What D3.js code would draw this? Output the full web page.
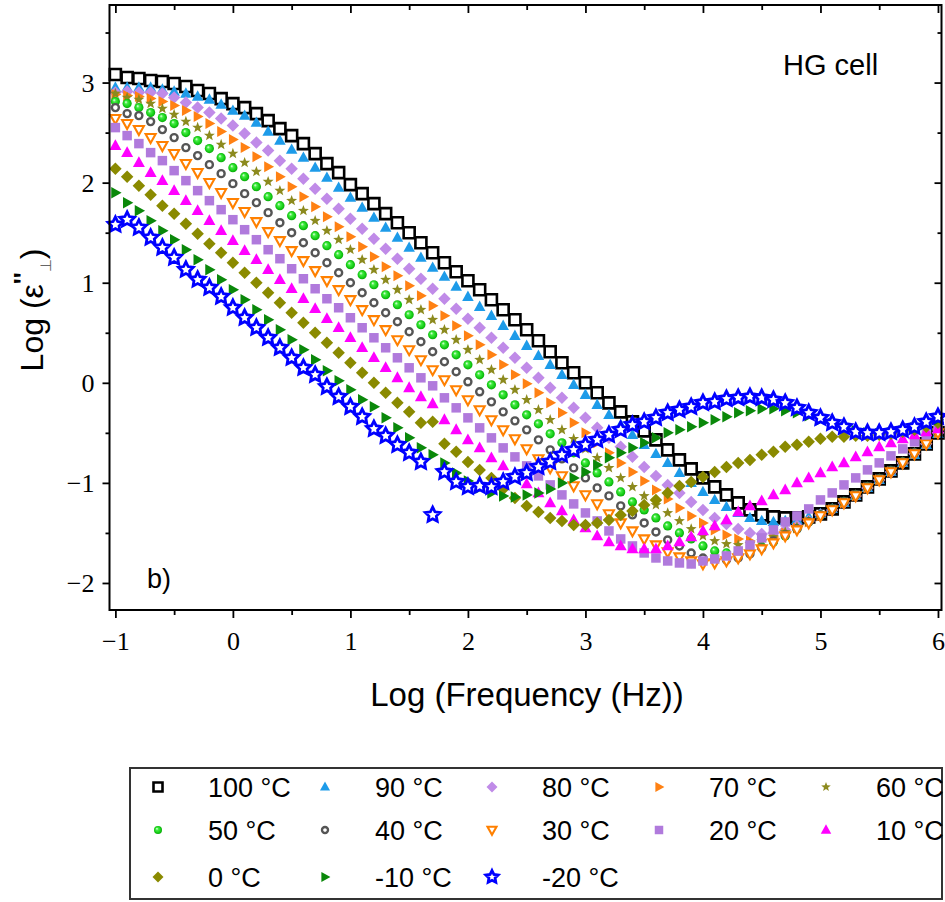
<!DOCTYPE html>
<html><head><meta charset="utf-8">
<script src="https://cdn.jsdelivr.net/npm/d3@7"></script>
<style>body{margin:0;background:#fff}</style>
</head><body><svg id="c" width="945" height="902"></svg>
<script>
// ---------- DATA ----------
const logF = [-1.0,-0.9,-0.8,-0.7,-0.6,-0.5,-0.4,-0.3,-0.2,-0.1,
 0.0,0.1,0.2,0.3,0.4,0.5,0.6,0.7,0.8,0.9,
 1.0,1.1,1.2,1.3,1.4,1.5,1.6,1.7,1.8,1.9,
 2.0,2.1,2.2,2.3,2.4,2.5,2.6,2.7,2.8,2.9,
 3.0,3.1,3.2,3.3,3.4,3.5,3.6,3.7,3.8,3.9,
 4.0,4.1,4.2,4.3,4.4,4.5,4.6,4.7,4.8,4.9,
 5.0,5.1,5.2,5.3,5.4,5.5,5.6,5.7,5.8,5.9,
 6.0];

const eps100 = [3.08,3.05,3.04,3.02,3.01,2.99,2.96,2.92,2.89,2.84,
 2.79,2.75,2.69,2.62,2.54,2.47,2.39,2.29,2.19,2.10,
 1.98,1.89,1.79,1.69,1.60,1.50,1.40,1.30,1.20,1.11,
 1.02,0.93,0.83,0.73,0.63,0.53,0.42,0.31,0.20,0.10,
 0.00,-0.10,-0.20,-0.29,-0.39,-0.48,-0.57,-0.67,-0.77,-0.86,
 -0.95,-1.04,-1.12,-1.20,-1.27,-1.32,-1.34,-1.35,-1.35,-1.34,
 -1.31,-1.26,-1.19,-1.12,-1.04,-0.96,-0.88,-0.80,-0.71,-0.61,
 -0.50];
const eps90 = [2.95,2.95,2.95,2.95,2.93,2.91,2.89,2.86,2.83,2.78,
 2.72,2.67,2.60,2.51,2.42,2.33,2.25,2.15,2.05,1.95,
 1.85,1.75,1.65,1.55,1.45,1.35,1.25,1.15,1.06,0.96,
 0.86,0.76,0.67,0.57,0.47,0.37,0.27,0.18,0.08,-0.02,
 -0.12,-0.22,-0.32,-0.42,-0.52,-0.62,-0.71,-0.80,-0.90,-1.00,
 -1.09,-1.17,-1.24,-1.30,-1.35,-1.38,-1.39,-1.38,-1.37,-1.34,
 -1.31,-1.26,-1.20,-1.13,-1.05,-0.97,-0.89,-0.80,-0.72,-0.62,
 -0.51];
const eps80 = [2.90,2.91,2.90,2.90,2.89,2.85,2.80,2.75,2.70,2.64,
 2.57,2.49,2.40,2.32,2.22,2.14,2.04,1.94,1.84,1.74,
 1.64,1.54,1.44,1.34,1.24,1.14,1.04,0.94,0.84,0.74,
 0.64,0.55,0.45,0.35,0.25,0.15,0.05,-0.05,-0.15,-0.25,
 -0.35,-0.45,-0.55,-0.64,-0.74,-0.84,-0.93,-1.02,-1.10,-1.19,
 -1.27,-1.35,-1.41,-1.46,-1.50,-1.51,-1.50,-1.47,-1.43,-1.38,
 -1.32,-1.27,-1.20,-1.13,-1.05,-0.97,-0.89,-0.80,-0.71,-0.61,
 -0.50];
const eps70 = [2.88,2.87,2.86,2.84,2.81,2.77,2.72,2.66,2.59,2.51,
 2.43,2.35,2.26,2.16,2.06,1.96,1.86,1.76,1.66,1.56,
 1.46,1.36,1.26,1.16,1.07,0.97,0.87,0.77,0.67,0.57,
 0.47,0.38,0.28,0.18,0.08,-0.01,-0.10,-0.20,-0.30,-0.40,
 -0.50,-0.60,-0.70,-0.80,-0.89,-0.98,-1.07,-1.16,-1.25,-1.33,
 -1.40,-1.47,-1.52,-1.56,-1.58,-1.57,-1.54,-1.50,-1.45,-1.39,
 -1.33,-1.27,-1.20,-1.13,-1.05,-0.97,-0.89,-0.80,-0.71,-0.61,
 -0.50];
const eps60 = [2.89,2.85,2.83,2.79,2.74,2.68,2.61,2.55,2.47,2.38,
 2.29,2.20,2.11,2.01,1.92,1.82,1.72,1.62,1.52,1.43,
 1.33,1.23,1.13,1.03,0.93,0.83,0.73,0.63,0.53,0.43,
 0.33,0.23,0.13,0.03,-0.07,-0.17,-0.27,-0.37,-0.47,-0.56,
 -0.66,-0.75,-0.85,-0.95,-1.04,-1.13,-1.22,-1.30,-1.38,-1.46,
 -1.53,-1.58,-1.61,-1.62,-1.61,-1.58,-1.54,-1.49,-1.44,-1.38,
 -1.32,-1.26,-1.19,-1.12,-1.04,-0.96,-0.88,-0.79,-0.70,-0.60,
 -0.49];
const eps50 = [2.81,2.79,2.75,2.70,2.65,2.59,2.50,2.42,2.34,2.25,
 2.15,2.06,1.96,1.86,1.77,1.67,1.57,1.47,1.37,1.28,
 1.18,1.08,0.98,0.88,0.78,0.68,0.58,0.48,0.38,0.28,
 0.18,0.08,-0.02,-0.12,-0.22,-0.32,-0.41,-0.51,-0.60,-0.70,
 -0.80,-0.90,-0.99,-1.09,-1.19,-1.27,-1.35,-1.43,-1.50,-1.56,
 -1.63,-1.68,-1.70,-1.70,-1.68,-1.64,-1.59,-1.53,-1.46,-1.39,
 -1.32,-1.26,-1.19,-1.12,-1.04,-0.96,-0.88,-0.79,-0.70,-0.60,
 -0.49];
const eps40 = [2.75,2.69,2.67,2.61,2.53,2.45,2.35,2.27,2.18,2.09,
 1.99,1.89,1.80,1.70,1.60,1.50,1.40,1.30,1.20,1.10,
 1.00,0.90,0.80,0.70,0.61,0.51,0.41,0.31,0.21,0.11,
 0.01,-0.09,-0.19,-0.29,-0.38,-0.47,-0.57,-0.67,-0.76,-0.85,
 -0.95,-1.05,-1.13,-1.23,-1.32,-1.40,-1.49,-1.57,-1.63,-1.70,
 -1.75,-1.77,-1.77,-1.75,-1.71,-1.65,-1.58,-1.52,-1.46,-1.39,
 -1.32,-1.26,-1.19,-1.12,-1.04,-0.96,-0.88,-0.79,-0.70,-0.60,
 -0.49];
const eps30 = [2.64,2.59,2.53,2.45,2.37,2.29,2.19,2.10,2.00,1.90,
 1.80,1.71,1.61,1.51,1.42,1.32,1.22,1.12,1.02,0.93,
 0.83,0.73,0.63,0.53,0.43,0.33,0.23,0.13,0.03,-0.07,
 -0.17,-0.27,-0.37,-0.47,-0.56,-0.66,-0.76,-0.85,-0.93,-1.03,
 -1.12,-1.21,-1.31,-1.40,-1.48,-1.56,-1.62,-1.69,-1.74,-1.78,
 -1.81,-1.80,-1.78,-1.75,-1.71,-1.66,-1.60,-1.53,-1.47,-1.40,
 -1.33,-1.27,-1.20,-1.13,-1.05,-0.97,-0.89,-0.80,-0.71,-0.61,
 -0.50];
const eps20 = [2.55,2.47,2.39,2.30,2.22,2.12,2.02,1.92,1.82,1.73,
 1.63,1.53,1.43,1.33,1.24,1.14,1.04,0.94,0.84,0.75,
 0.65,0.55,0.45,0.35,0.25,0.15,0.05,-0.03,-0.15,-0.25,
 -0.35,-0.45,-0.55,-0.65,-0.74,-0.83,-0.93,-1.02,-1.12,-1.21,
 -1.30,-1.38,-1.48,-1.56,-1.63,-1.70,-1.75,-1.78,-1.80,-1.81,
 -1.78,-1.76,-1.73,-1.68,-1.62,-1.55,-1.47,-1.39,-1.33,-1.26,
 -1.17,-1.10,-1.02,-0.95,-0.87,-0.80,-0.73,-0.66,-0.59,-0.52,
 -0.45];
const eps10 = [2.37,2.30,2.20,2.10,2.02,1.92,1.82,1.72,1.62,1.52,
 1.42,1.32,1.23,1.13,1.03,0.94,0.84,0.74,0.64,0.55,
 0.45,0.35,0.25,0.15,0.05,-0.05,-0.14,-0.21,-0.37,-0.47,
 -0.57,-0.65,-0.75,-0.83,-0.93,-1.01,-1.10,-1.20,-1.28,-1.37,
 -1.45,-1.53,-1.59,-1.63,-1.66,-1.66,-1.66,-1.63,-1.59,-1.54,
 -1.48,-1.43,-1.37,-1.29,-1.23,-1.18,-1.12,-1.07,-1.00,-0.95,
 -0.90,-0.84,-0.80,-0.74,-0.69,-0.64,-0.60,-0.56,-0.52,-0.49,
 -0.46];
const eps0 = [2.14,2.06,1.97,1.88,1.77,1.69,1.59,1.49,1.39,1.30,
 1.20,1.10,1.00,0.90,0.80,0.70,0.60,0.50,0.40,0.30,
 0.20,0.10,0.00,-0.10,-0.20,-0.29,-0.40,-0.39,-0.61,-0.69,
 -0.79,-0.87,-0.95,-1.06,-1.15,-1.23,-1.29,-1.35,-1.38,-1.42,
 -1.42,-1.40,-1.37,-1.32,-1.28,-1.22,-1.17,-1.10,-1.03,-0.99,
 -0.94,-0.89,-0.84,-0.80,-0.77,-0.72,-0.69,-0.64,-0.62,-0.59,
 -0.56,-0.54,-0.54,-0.53,-0.53,-0.52,-0.51,-0.49,-0.47,-0.44,
 -0.40];
const epsM10 = [1.90,1.80,1.72,1.62,1.52,1.43,1.33,1.23,1.13,1.03,
 0.93,0.83,0.73,0.63,0.53,0.43,0.33,0.23,0.12,0.02,
 -0.07,-0.17,-0.24,-0.35,-0.45,-0.55,-0.65,-0.72,-0.80,-0.90,
 -0.98,-1.05,-1.10,-1.13,-1.14,-1.12,-1.10,-1.06,-1.00,-0.95,
 -0.89,-0.82,-0.75,-0.70,-0.65,-0.60,-0.55,-0.50,-0.47,-0.44,
 -0.40,-0.37,-0.34,-0.30,-0.28,-0.26,-0.26,-0.28,-0.30,-0.33,
 -0.37,-0.41,-0.45,-0.48,-0.50,-0.51,-0.50,-0.48,-0.45,-0.41,
 -0.37];
const epsM20 = [1.58,1.63,1.55,1.45,1.35,1.25,1.13,1.03,0.95,0.86,
 0.75,0.65,0.55,0.45,0.35,0.25,0.15,0.08,-0.04,-0.14,
 -0.24,-0.34,-0.46,-0.53,-0.62,-0.70,-0.79,-1.32,-0.89,-0.99,
 -1.04,-1.03,-1.04,-0.99,-0.94,-0.90,-0.84,-0.79,-0.72,-0.67,
 -0.62,-0.57,-0.52,-0.47,-0.42,-0.39,-0.35,-0.30,-0.27,-0.24,
 -0.20,-0.19,-0.16,-0.15,-0.14,-0.15,-0.17,-0.20,-0.25,-0.30,
 -0.35,-0.40,-0.44,-0.49,-0.50,-0.50,-0.49,-0.47,-0.44,-0.39,
 -0.34];

const seriesLabels = ["100 °C","90 °C","80 °C","70 °C","60 °C","50 °C","40 °C","30 °C","20 °C","10 °C","0 °C","-10 °C","-20 °C"];
const xTicks = [-1,0,1,2,3,4,5,6];
const xMinor = [-0.5,0.5,1.5,2.5,3.5,4.5,5.5];
const yTicks = [-2,-1,0,1,2,3];
const yMinor = [-1.5,-0.5,0.5,1.5,2.5,3.5];

// ---------- STYLE ----------
const values = [eps100,eps90,eps80,eps70,eps60,eps50,eps40,eps30,eps20,eps10,eps0,epsM10,epsM20];
const styles = [
 {shape:"square",  s:11,  fill:"#fff", stroke:"#000", sw:2.6, ls:9},
 {shape:"triUp",   s:11.5,fill:"#1D9BE9", ls:10},
 {shape:"diamond", s:12.5,fill:"#C08BE8", ls:11},
 {shape:"triRight",s:11,  fill:"#FF8113", ls:10},
 {shape:"star",    s:11.5,fill:"#8C8A1E", inner:0.42, ls:10},
 {shape:"ball",    s:9.2, fill:"url(#ball)", ls:8},
 {shape:"circle",  s:7,   fill:"#fff", stroke:"#555", sw:2.4, ls:6},
 {shape:"triDown", s:10,  fill:"#fff", stroke:"#FF8000", sw:2.1, ls:9},
 {shape:"square",  s:9.5, fill:"#B07ADC", ls:8.5},
 {shape:"triUp",   s:12,  fill:"#FF00FF", ls:10.5},
 {shape:"diamond", s:12.5,fill:"#8A8A00", ls:11},
 {shape:"triRight",s:11.5,fill:"#0A880A", ls:10},
 {shape:"star",    s:15.5,fill:"#fff", stroke:"#0000FF", sw:2.8, inner:0.5, ls:13}
];
const series = seriesLabels.map((name,i)=>({name, vals:values[i], st:styles[i]}));

function shapePath(st, size){
  const s = size;
  switch(st.shape){
    case "square": return `M${-s/2},${-s/2}h${s}v${s}h${-s}Z`;
    case "triUp": { const h=s*0.9; return `M0,${-h*0.6}L${s/2},${h*0.4}L${-s/2},${h*0.4}Z`; }
    case "triDown": { const h=s*0.9; return `M0,${h*0.6}L${s/2},${-h*0.4}L${-s/2},${-h*0.4}Z`; }
    case "triRight": { const h=s*0.9; return `M${h*0.6},0L${-h*0.4},${s/2}L${-h*0.4},${-s/2}Z`; }
    case "diamond": return `M0,${-s/2}L${s/2},0L0,${s/2}L${-s/2},0Z`;
    case "circle": case "ball": { const r=s/2; return `M${r},0A${r},${r} 0 1,1 ${-r},0A${r},${r} 0 1,1 ${r},0Z`; }
    case "star": {
      const R=s/2, r=R*st.inner; let p="";
      for(let j=0;j<10;j++){ const a=-Math.PI/2+j*Math.PI/5; const rr=j%2?r:R;
        p += (j?"L":"M")+(rr*Math.cos(a)).toFixed(2)+","+(rr*Math.sin(a)).toFixed(2); }
      return p+"Z";
    }
  }
}

// ---------- CHART ----------
const svg = d3.select("#c");
svg.append("rect").attr("width",945).attr("height",902).attr("fill","#fff");
const defs = svg.append("defs");
const g = defs.append("radialGradient").attr("id","ball").attr("cx","0.5").attr("cy","0.5").attr("r","0.55").attr("fx","0.35").attr("fy","0.32");
g.append("stop").attr("offset","0").attr("stop-color","#f4fff4");
g.append("stop").attr("offset","0.3").attr("stop-color","#44ee44");
g.append("stop").attr("offset","0.75").attr("stop-color","#11c811");
g.append("stop").attr("offset","1").attr("stop-color","#0a9a0a");

const L=109.5, R=941.5, T=5, B=610;
const x = d3.scaleLinear().domain([-1.05,6.03]).range([L,R]);
const y = d3.scaleLinear().domain([-2.27,3.775]).range([B,T]);

const serif = "'Liberation Serif','Times New Roman',serif";
const sans = "'Liberation Sans',Arial,sans-serif";

function styleAxis(sel){ sel.select(".domain").remove(); sel.selectAll("line").attr("stroke","#000").attr("stroke-width",1.8); }

// bottom (outward)
svg.append("g").attr("transform",`translate(0,${B})`)
  .call(d3.axisBottom(x).tickValues(xTicks).tickSize(8).tickFormat(d3.format("d")))
  .call(styleAxis)
  .call(s=>s.selectAll("text").attr("y",40).attr("dy",0).attr("font-family",serif).attr("font-size",26).attr("fill","#000"));
svg.append("g").attr("transform",`translate(0,${B})`)
  .call(d3.axisBottom(x).tickValues(xMinor).tickSize(5).tickFormat("")).call(styleAxis);
// top (inward)
svg.append("g").attr("transform",`translate(0,${T})`)
  .call(d3.axisBottom(x).tickValues(xTicks).tickSize(8).tickFormat("")).call(styleAxis);
svg.append("g").attr("transform",`translate(0,${T})`)
  .call(d3.axisBottom(x).tickValues(xMinor).tickSize(5).tickFormat("")).call(styleAxis);
// left (outward)
svg.append("g").attr("transform",`translate(${L},0)`)
  .call(d3.axisLeft(y).tickValues(yTicks).tickSize(7).tickFormat(d3.format("d")))
  .call(styleAxis)
  .call(s=>s.selectAll("text").attr("x",-15).attr("dy","0.34em").attr("font-family",serif).attr("font-size",26).attr("fill","#000"));
svg.append("g").attr("transform",`translate(${L},0)`)
  .call(d3.axisLeft(y).tickValues(yMinor).tickSize(4).tickFormat("")).call(styleAxis);
// right (inward)
svg.append("g").attr("transform",`translate(${R},0)`)
  .call(d3.axisLeft(y).tickValues(yTicks).tickSize(7).tickFormat("")).call(styleAxis);
svg.append("g").attr("transform",`translate(${R},0)`)
  .call(d3.axisLeft(y).tickValues(yMinor).tickSize(4).tickFormat("")).call(styleAxis);

// markers
const plot = svg.append("g");
series.forEach(se=>{
  const pts = se.vals.map((v,i)=>[logF[i], v]);
  plot.append("g").selectAll("path").data(pts).join("path")
    .attr("transform",d=>`translate(${x(d[0]).toFixed(2)},${y(d[1]).toFixed(2)})`)
    .attr("d",shapePath(se.st, se.st.s))
    .attr("fill",se.st.fill)
    .attr("stroke",se.st.stroke||"none")
    .attr("stroke-width",se.st.sw||0)
    .attr("stroke-linejoin","miter");
});

// frame
svg.append("rect").attr("x",L).attr("y",T).attr("width",R-L).attr("height",B-T)
  .attr("fill","none").attr("stroke","#000").attr("stroke-width",2);

// labels
svg.append("text").attr("x",527).attr("y",706).attr("text-anchor","middle")
  .attr("font-family",sans).attr("font-size",33).text("Log (Frequency (Hz))");
const yl = svg.append("text").attr("transform","translate(43,310) rotate(-90)").attr("text-anchor","middle")
  .attr("font-family",sans).attr("font-size",32);
yl.append("tspan").text("Log (ε");
yl.append("tspan").attr("dy",-11).attr("font-size",25).attr("font-weight","bold").text("''");
yl.append("tspan").attr("dy",19).attr("font-size",15).attr("fill","#666").text("⊥");
yl.append("tspan").attr("dy",-8).text(")");

svg.append("text").attr("x",783).attr("y",75).attr("font-family",sans).attr("font-size",29).text("HG cell");
svg.append("text").attr("x",147).attr("y",588).attr("font-family",sans).attr("font-size",27).text("b)");

// legend
svg.append("rect").attr("x",130).attr("y",768).attr("width",812).attr("height",131)
  .attr("fill","#fff").attr("stroke","#333").attr("stroke-width",2);
const rowsY = [787,830,877];
series.forEach((se,i)=>{
  const col=i%5, row=Math.floor(i/5);
  const mx = 158+167*col, my=rowsY[row];
  svg.append("path").attr("transform",`translate(${mx},${my})`)
    .attr("d",shapePath(se.st, se.st.ls))
    .attr("fill",se.st.fill).attr("stroke",se.st.stroke||"none").attr("stroke-width",se.st.sw||0);
  svg.append("text").attr("x",208+167*col).attr("y",my+10).attr("font-family",sans).attr("font-size",27).text(se.name);
});
</script></body></html>
